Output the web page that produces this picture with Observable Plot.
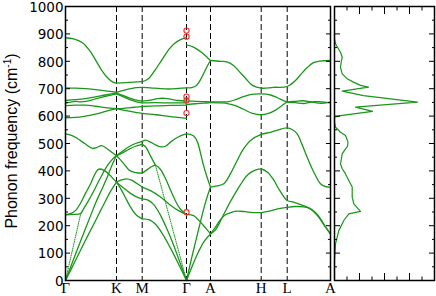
<!DOCTYPE html>
<html><head><meta charset="utf-8">
<script src="https://cdn.jsdelivr.net/npm/d3@7"></script>
<script src="https://cdn.jsdelivr.net/npm/@observablehq/plot@0.6"></script>
<style>
body{margin:0;background:#fff;}
#wrap{position:relative;width:436px;height:296px;overflow:hidden;background:#fff;}
#main,#dos{position:absolute;top:0;}
#main{left:0}
#dos{left:332px}
#main svg{overflow:visible}
#ylab{position:absolute;left:-108px;top:132px;width:240px;height:18px;line-height:18px;text-align:center;transform:rotate(-90deg);font:16px "Liberation Sans",Arial,sans-serif;white-space:nowrap;color:#000;}
#ylab sup{font-size:10px;line-height:0;vertical-align:6px}
</style></head><body>
<div id="wrap"><div id="main"></div><div id="dos"></div><div id="ylab">Phonon frequency (cm<sup>-1</sup>)</div></div>
<script>
// high-symmetry path positions and labels
const pathPos = [0, 51, 76.7, 121, 145, 195.7, 221.7, 265];
const pathLabels = ["Γ", "K", "M", "Γ", "A", "H", "L", "A"];
const yMajor = [0, 100, 200, 300, 400, 500, 600, 700, 800, 900, 1000];
const yMinor = [50, 150, 250, 350, 450, 550, 650, 750, 850, 950];
const dosMajor = [25, 50, 75];
const dosMinor = [12.5, 37.5, 62.5, 87.5];

// experimental points at Gamma
const exptGamma = [249, 611, 657, 671, 890, 912];

// branches: [path position, frequency]
const branchesGK = [
  [[0,0],[10,73],[20,147],[30,218],[35,255],[40,290],[45,325],[51,359]],
  [[0,0],[10,96],[20,190],[26,245],[30,282],[36,330],[42,380],[47,425],[51,456]],
  [[0,240],[8,241],[15,244],[17,255],[22,285],[28,325],[35,375],[42,420],[47,443],[51,456]],
  [[0,240],[5,244],[10,255],[15,282],[20,318],[25,352],[29,385],[32,403],[35,407],[39,401],[44,386],[48,370],[51,359]],
  [[0,535],[6,530],[12,518],[20,498],[27,482],[31,485],[36,492],[42,480],[47,466],[51,456]],
  [[0,594],[10,595],[20,600],[30,607],[40,617],[51,627]],
  [[0,638],[10,640],[20,640],[30,636],[40,631],[51,627]],
  [[0,647],[5,651],[10,654],[15,652],[22,655],[30,663],[40,672],[51,681]],
  [[0,657],[10,660],[20,664],[30,670],[40,677],[51,684]],
  [[0,703],[10,702],[20,700],[30,697],[40,692],[51,687]],
  [[0,886],[8,882],[17,868],[24,840],[30,805],[36,768],[42,740],[47,725],[51,720]]
];
const branchesKM = [
  [[51,456],[57,472],[63,487],[70,500],[76.7,508]],
  [[51,456],[57,466],[63,478],[70,490],[76.7,497]],
  [[51,456],[55,440],[60,418],[64,402],[70,394],[76.7,392]],
  [[51,359],[56,367],[61,371],[66,366],[71,355],[76.7,341]],
  [[51,359],[58,338],[65,318],[71,305],[76.7,298]],
  [[51,359],[56,330],[61,295],[66,262],[71,238],[76.7,225]],
  [[51,720],[60,722],[68,724],[76.7,726]],
  [[51,687],[58,694],[65,700],[71,704],[76.7,705]],
  [[51,684],[58,675],[65,665],[71,658],[76.7,655]],
  [[51,681],[58,670],[65,659],[71,652],[76.7,648]],
  [[51,627],[58,628],[65,631],[71,633],[76.7,635]],
  [[51,627],[58,622],[65,617],[71,613],[76.7,610]]
];
const branchesMG = [
  [[76.7,508],[80,512],[85,505],[90,495],[95,488],[100,490],[105,505],[110,518],[115,528],[121,535]],
  [[76.7,497],[80,488],[85,455],[90,420]],
  [[76.7,392],[80,400],[85,413],[90,420],[95,405],[100,372],[105,330],[110,290],[115,260],[121,240]],
  [[76.7,341],[85,328],[95,305],[105,275],[113,255],[121,240]],
  [[76.7,298],[82,294],[88,278],[94,245],[100,200],[107,140],[114,70],[121,0]],
  [[76.7,225],[84,221],[90,205],[97,170],[105,118],[113,60],[121,0]],
  [[76.7,726],[80,730],[84,740],[89,765],[94,792],[99,820],[104,846],[109,865],[114,877],[121,886]],
  [[76.7,705],[85,703],[95,700],[105,699],[113,701],[121,703]],
  [[76.7,655],[85,658],[92,664],[99,665],[106,661],[113,657],[121,655]],
  [[76.7,648],[90,649],[105,648],[121,648]],
  [[76.7,635],[90,637],[105,639],[121,640]],
  [[76.7,610],[90,605],[105,598],[121,592]]
];
const branchesGA = [
  [[121,0],[127,55],[133,105],[139,145],[145,170]],
  [[121,0],[127,95],[133,185],[140,285],[145,341]],
  [[121,240],[128,237],[135,213],[140,192],[145,170]],
  [[121,535],[125,533],[128,528],[132,505],[135,465],[138,420],[142,372],[145,341]],
  [[121,860],[128,852],[134,838],[138,827],[142,813],[145,803]],
  [[121,703],[126,704],[131,712],[135,733],[139,762],[142,784],[145,803]],
  [[121,655],[130,654],[138,653],[145,652]],
  [[121,642],[130,645],[138,647],[145,649]]
];
const branchesAHLA = [
  [[145,341],[151.7,345],[158.3,353],[165,390],[171.7,438],[178,480],[185,511],[195.7,533],[205,541],[212,549],[221.7,557],[227,550],[231.7,535],[236.7,495],[241.7,450],[248,398],[255,353],[260,343],[265,341]],
  [[145,170],[150,185],[158,240],[166,295],[175,350],[182,385],[188,400],[195.7,407],[202,395],[208,368],[214,330],[221.7,292],[228,286],[235,277],[241.7,268],[247,257],[252,240],[256,220],[260,196],[265,170]],
  [[145,170],[150,195],[155,222],[160,240],[166,249],[172,253],[180,251],[188,248],[195.7,248],[205,254],[212,261],[221.7,267],[230,270],[238,269],[243,265],[248,252],[253,232],[258,205],[262,185],[265,170]],
  [[145,649],[155,648],[163,645],[170,638],[178,625],[187,610],[195.7,605],[203,610],[210,622],[216,637],[221.7,651],[230,654],[238,656],[246,652],[254,653],[265,648]],
  [[145,652],[155,652],[162,652],[170,660],[178,671],[186,679],[195.7,681],[205,677],[212,667],[221.7,651],[230,649],[238,646],[246,651],[254,647],[265,650]],
  [[145,803],[155,800],[162,797],[168,785],[173,766],[180,738],[187,712],[195.7,702],[208,705],[221.7,708],[230,730],[236,755],[242,778],[248,795],[254,801],[265,803]]
];
// sparse (dotted) steep acoustic segments
const branchesDotted = [
  [[0,0],[15,240]],
  [[90,420],[121,0]]
];

// phonon density of states
const dosFreq = [0, 73, 134, 182, 219, 243, 252, 280, 304, 341, 365, 389, 408, 426, 462, 475, 490, 505, 529, 541, 560, 578, 596, 602, 617, 633, 651, 675, 691, 706, 712, 724, 736, 754, 778, 797, 815, 833, 864, 882, 900];
const dosVal  = [0, 0, 1, 4.3, 9.3, 14.3, 26, 19.3, 17.7, 17.7, 14.3, 11, 7.7, 6, 7.7, 10, 13, 13.5, 11, 6, 1, 0, 0, 6, 38, 21, 83, 29, 7.7, 34, 26, 19, 12.7, 7.7, 6, 6.7, 7.7, 6, 1, 0, 0];

const green = "#1a961a";
const toRows = (list) => list.flatMap((b, i) => b.map(([k, f]) => ({k, f, id: i})));
const solid = toRows([...branchesGK, ...branchesKM, ...branchesMG, ...branchesGA, ...branchesAHLA]);
const dotted = toRows(branchesDotted);
const dos = dosFreq.map((f, i) => ({f, v: dosVal[i]}));
const gammaPos = pathPos[3];
const labelFor = (d) => pathLabels[pathPos.indexOf(d)];

const main = Plot.plot({
  width: 332, height: 296,
  marginLeft: 65, marginRight: 2, marginTop: 6, marginBottom: 16,
  x: {domain: [0, 265], label: null},
  y: {domain: [0, 1000], label: null},
  style: {background: "transparent", color: "#000", overflow: "visible"},
  marks: [
    Plot.ruleX(pathPos.slice(1, -1), {stroke: "#000", strokeWidth: 1, strokeDasharray: "6,3"}),
    Plot.line(solid, {x: "k", y: "f", z: "id", stroke: green, strokeWidth: 1.3, curve: "catmull-rom"}),
    Plot.line(dotted, {x: "k", y: "f", z: "id", stroke: green, strokeWidth: 1, strokeDasharray: "1,1.3"}),
    Plot.dot(exptGamma, {x: () => gammaPos, y: (d) => d, r: 2.6, stroke: "#f03030", fill: "none", strokeWidth: 1.1}),
    Plot.axisY(yMajor, {anchor: "left", tickSize: -5, fill: "none", label: null}),
    Plot.axisY(yMinor, {anchor: "left", tickSize: -3, fill: "none", label: null}),
    Plot.axisY(yMajor, {anchor: "right", tickSize: -5, fill: "none", label: null}),
    Plot.axisY(yMinor, {anchor: "right", tickSize: -3, fill: "none", label: null}),
    Plot.axisY(yMajor, {anchor: "left", tickSize: 0, tickPadding: 2, dy: 1, label: null, fontSize: 13.5, fontFamily: "DejaVu Sans", tickFormat: (d) => String(d)}),
    Plot.axisX(pathPos, {anchor: "bottom", tickSize: 0, tickPadding: 2, label: null, fontSize: 15, fontFamily: "Liberation Serif", tickFormat: labelFor}),
    Plot.frame({stroke: "#000", strokeWidth: 1.5})
  ]
});
document.getElementById("main").append(main);

const dosPlot = Plot.plot({
  width: 104, height: 296,
  marginLeft: 2, marginRight: 2, marginTop: 6, marginBottom: 16,
  x: {domain: [0, 100], label: null},
  y: {domain: [0, 1000], label: null},
  style: {background: "transparent"},
  marks: [
    Plot.line(dos, {x: "v", y: "f", stroke: green, strokeWidth: 1.2}),
    Plot.axisY(yMajor, {anchor: "left", tickSize: -6, fill: "none", label: null}),
    Plot.axisY(yMinor, {anchor: "left", tickSize: -3, fill: "none", label: null}),
    Plot.axisY(yMajor, {anchor: "right", tickSize: -6, fill: "none", label: null}),
    Plot.axisY(yMinor, {anchor: "right", tickSize: -3, fill: "none", label: null}),
    Plot.axisX(dosMajor, {anchor: "bottom", tickSize: -7, fill: "none", label: null}),
    Plot.axisX(dosMinor, {anchor: "bottom", tickSize: -3.5, fill: "none", label: null}),
    Plot.axisX(dosMajor, {anchor: "top", tickSize: -7, fill: "none", label: null}),
    Plot.axisX(dosMinor, {anchor: "top", tickSize: -3.5, fill: "none", label: null}),
    Plot.frame({stroke: "#000", strokeWidth: 1.5})
  ]
});
document.getElementById("dos").append(dosPlot);
</script>
</body></html>
